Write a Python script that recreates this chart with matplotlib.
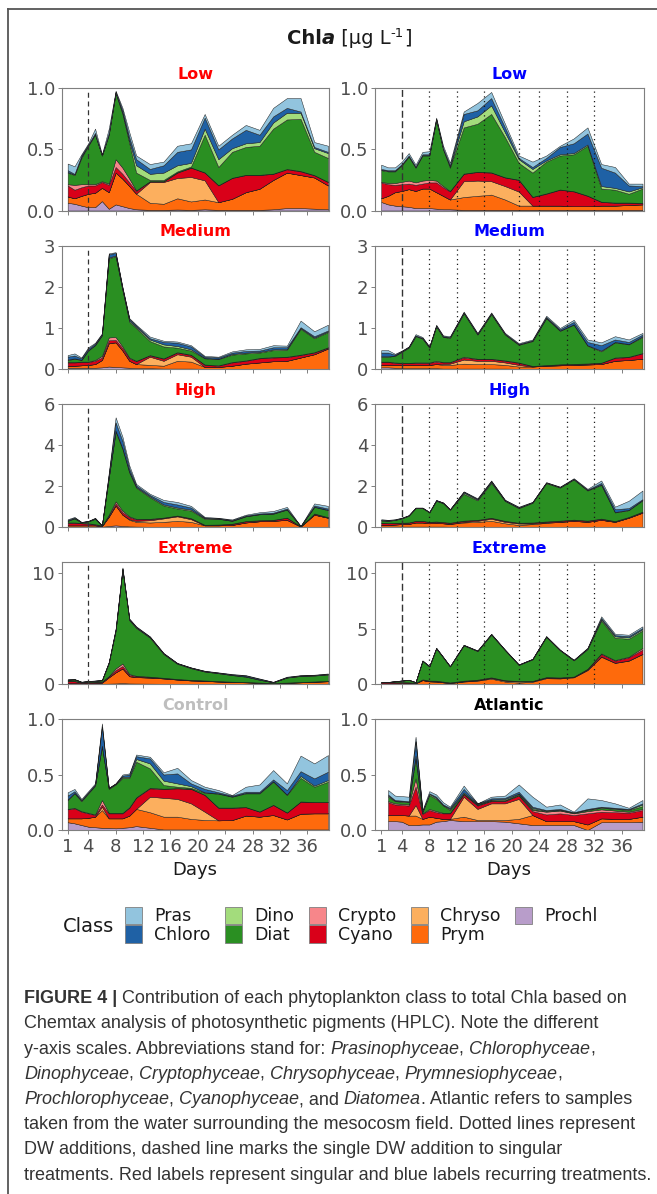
import numpy as np
import matplotlib
matplotlib.use("Agg")
import matplotlib.pyplot as plt
from matplotlib.patches import Patch
from matplotlib.lines import Line2D

nan = np.nan

# sampling days (x axis)
days = [1, 2, 3, 4, 5, 6, 7, 8, 9, 10, 11, 13, 15, 17, 19, 21, 23, 25, 27, 29, 31, 33, 35, 37, 39]

# class order, bottom of the stack first
classes = ["Prochl", "Prym", "Chryso", "Cyano", "Crypto", "Diat", "Dino", "Chloro", "Pras"]
class_colors = ["#B89DCA", "#FE6A0C", "#FCAF5E", "#D90019", "#F7868A",
                "#2A8F22", "#A3DC7C", "#1F61A5", "#92C4DE"]

# Chla per class [ug/L], rows follow `classes`
low_single = [
    [.063, .055, .04, .027, .027, .077, .014, .05, .035, .02, .01, .005, .005, .008, .005, .01, .005, .005, .005, .005, .01, .02, .02, .015, .01],
    [.052, .045, .08, .11, .118, .109, .136, .26, .225, .18, .127, .058, .05, .092, .069, .08, .063, .091, .145, .173, .24, .29, .27, .255, .195],
    [0, 0, 0, 0, 0, 0, 0, 0, 0, 0, 0, .17, .178, .166, .20, .157, 0, 0, 0, 0, 0, 0, 0, 0, 0],
    [.09, .07, .07, .068, .06, .047, .06, .046, .04, .03, .023, .005, .005, .044, .076, .063, .137, .17, .14, .112, .05, .027, .03, .018, .028],
    [.01, .04, .025, .01, .01, .007, .01, .064, .05, .03, .005, .002, .002, .002, .002, .002, .002, .002, .002, .002, .002, .003, .003, .002, .002],
    [.095, .08, .215, .315, .405, .21, .40, .54, .44, .29, .145, .01, .01, .008, .008, .308, .149, .212, .228, .238, .368, .405, .427, .19, .195],
    [.005, .005, .01, .005, .005, 0, .005, .005, .01, .02, .06, .05, .06, .05, .03, .05, .064, .03, .03, .03, .05, .055, .05, .03, .04],
    [.015, .005, .01, .005, .01, .002, .01, .005, .02, .03, .05, .04, .06, .11, .11, .09, .08, .08, .11, .06, .05, .04, .01, .01, .01],
    [.054, .062, .01, .01, .035, .008, .035, .01, .02, .04, .03, .04, .03, .05, .05, .03, .03, .03, .04, .04, .07, .08, .11, .04, .05],
]

low_recurring = [
    [.07, .05, .04, .035, .03, .02, .02, .02, .015, .01, .01, .005, .005, .005, .005, .005, .005, .005, .005, .005, .005, .005, .005, .005, .005],
    [.03, .07, .11, .125, .145, .14, .16, .16, .135, .11, .08, .105, .115, .125, .085, .035, .035, .035, .035, .03, .03, .035, .035, .04, .045],
    [0, 0, 0, 0, 0, 0, 0, 0, 0, 0, 0, .13, .125, .11, .11, .115, 0, 0, 0, 0, 0, 0, 0, 0, 0],
    [.13, .095, .06, .055, .045, .05, .04, .05, .08, .07, .066, .06, .07, .07, .07, .095, .07, .097, .13, .121, .085, .03, .023, .018, .01],
    [.005, .01, .015, .02, .025, .02, .025, .02, .015, .01, .004, .002, .002, .002, .002, .002, .002, .003, .002, .002, .002, .002, .002, .002, .002],
    [.095, .095, .095, .135, .195, .12, .205, .20, .495, .30, .19, .378, .393, .478, .328, .138, .198, .26, .278, .302, .408, .108, .105, .072, .118],
    [.005, .005, .005, .005, .005, .005, .005, .005, .005, .005, .01, .05, .06, .07, .04, .03, .03, .01, .01, .01, .01, .02, .015, .019, .01],
    [.005, .005, .005, .005, .005, .005, .005, .005, .005, .005, .01, .06, .05, .06, .04, .01, .016, .02, .06, .08, .09, .15, .125, .049, .01],
    [.035, .023, .023, .02, .02, .015, .02, .025, .01, .02, .02, .02, .06, .05, .03, .02, .044, .02, .01, .04, .05, .03, .046, .015, .02],
]

medium_single = [
    [.03, .03, .03, .03, .03, .04, .06, .05, .04, .03, .02, .02, .01, .01, .01, .005, .005, .005, .005, .005, .005, .005, .005, .005, .005],
    [.05, .05, .06, .07, .09, .18, .57, .60, .41, .17, .10, .08, .07, .19, .17, .045, .045, .075, .125, .155, .185, .195, .275, .355, .495],
    [0, 0, 0, 0, 0, 0, 0, 0, 0, 0, 0, .20, .12, .16, .12, 0, 0, 0, 0, 0, 0, 0, 0, 0, 0],
    [.08, .08, .08, .07, .08, .06, .07, .06, .06, .06, .07, .03, .05, .04, .04, .05, .03, .08, .07, .10, .09, .09, .06, .04, .02],
    [.01, .01, .01, .01, .02, .04, .07, .07, .04, .02, .01, .01, .01, .01, .01, .01, .01, .01, .01, .01, .01, .01, .01, .01, .01],
    [.05, .08, .04, .27, .36, .50, 1.93, 1.97, 1.37, .87, .80, .34, .29, .11, .10, .15, .15, .18, .17, .13, .17, .17, .63, .34, .37],
    [.01, .01, .005, .01, .01, .01, .02, .02, .02, .03, .03, .04, .05, .04, .03, .01, .01, .02, .02, .02, .02, .02, .02, .02, .02],
    [.07, .07, .035, .04, .03, .02, .08, .06, .04, .04, .03, .03, .06, .08, .07, .03, .03, .03, .04, .03, .05, .04, .02, .03, .02],
    [.04, .05, .02, .03, .02, .02, .02, .02, .02, .02, .02, .04, .03, .03, .03, .02, .02, .03, .04, .04, .05, .04, .16, .12, .14],
]

medium_recurring = [
    [.04, .04, .03, .02, .02, .02, .02, .02, .02, .01, .01, .01, .01, .01, .01, .005, .005, .005, .005, .005, .005, .005, .005, .005, .005],
    [.06, .06, .07, .08, .08, .08, .08, .08, .10, .09, .09, .12, .11, .11, .09, .055, .055, .075, .085, .095, .105, .115, .195, .215, .245],
    [0, 0, 0, 0, 0, 0, 0, 0, 0, .02, .03, .10, .08, .08, .06, .04, 0, 0, 0, 0, 0, 0, 0, 0, 0],
    [.07, .07, .05, .04, .04, .05, .05, .05, .06, .04, .03, .05, .04, .04, .04, .05, .01, .01, .02, .02, .02, .03, .07, .07, .13],
    [.01, .01, .01, .01, .01, .01, .01, .01, .02, .01, .01, .02, .01, .01, .01, .01, .005, .005, .005, .005, .005, .005, .01, .01, .01],
    [.12, .12, .16, .27, .37, .64, .58, .36, .84, .61, .59, 1.06, .59, 1.09, .63, .43, .605, 1.145, .815, .955, .435, .275, .37, .30, .39],
    [.01, .01, .01, .01, .01, .01, .01, .01, .01, .01, .01, .01, .01, .01, .01, .01, .01, .01, .01, .01, .01, .02, .01, .01, .02],
    [.09, .09, .02, .01, .01, .01, .01, .01, .01, .01, .01, .01, .01, .01, .01, .01, .01, .02, .03, .06, .08, .13, .06, .05, .04],
    [.06, .06, .02, .01, .01, .03, .02, .01, .02, .02, .02, .02, .02, .02, .02, .02, .02, .03, .03, .05, .06, .07, .08, .06, .04],
]

high_single = [
    [.02, .02, .02, .02, .02, .01, .05, .08, .05, .03, .02, .01, .01, .01, .01, .005, .005, .005, .005, .005, .005, .005, .005, .005, .005],
    [.06, .06, .06, .06, .06, .03, .45, .97, .55, .32, .23, .21, .24, .29, .24, .075, .075, .095, .215, .275, .295, .345, .015, .595, .445],
    [0, 0, 0, 0, 0, 0, 0, 0, 0, .03, .05, .11, .17, .22, .13, 0, 0, 0, 0, 0, 0, 0, 0, 0, 0],
    [.12, .12, .10, .08, .04, .02, .05, .10, .12, .10, .07, .05, .03, .03, .04, .02, .03, .05, .06, .04, .04, .10, .01, .05, .02],
    [.02, .02, .02, .02, .02, .01, .05, .10, .08, .04, .03, .02, .01, .01, .01, .01, .01, .01, .01, .01, .01, .01, 0, .01, .01],
    [.08, .20, .02, .09, .26, .01, 1.80, 3.40, 3.00, 2.13, 1.52, 1.05, .59, .34, .37, .29, .28, .14, .23, .29, .30, .39, .01, .32, .34],
    [.01, .01, .01, .01, .01, 0, .02, .05, .05, .05, .04, .05, .05, .05, .05, .03, .01, .01, .01, .01, .01, .01, 0, .01, .02],
    [.03, .03, .01, .01, .02, 0, .13, .40, .35, .15, .07, .06, .12, .15, .10, .03, .02, .03, .03, .03, .04, .04, .005, .06, .06],
    [.04, .03, .01, .01, .02, 0, .10, .25, .20, .15, .07, .06, .10, .12, .08, .03, .02, .03, .04, .06, .08, .08, .005, .10, .13],
]

high_recurring = [
    [.02, .02, .02, .02, .02, .02, .02, .02, .02, .02, .01, .01, .01, .01, .01, .01, .01, .01, .01, .01, .01, .01, .01, .01, .01],
    [.08, .08, .10, .12, .13, .20, .20, .16, .18, .16, .14, .21, .24, .29, .17, .09, .13, .19, .24, .29, .24, .34, .24, .44, .69],
    [0, 0, 0, 0, 0, 0, 0, 0, 0, 0, 0, .03, .05, .10, .07, .07, .03, .02, 0, 0, 0, 0, 0, 0, 0],
    [.10, .08, .07, .06, .06, .07, .07, .06, .06, .05, .05, .05, .04, .04, .04, .03, .04, .04, .05, .05, .05, .05, .03, .03, .04],
    [.01, .01, .01, .01, .01, .01, .01, .01, .01, .01, .01, .01, .01, .01, .01, .01, .01, .01, .01, .01, .01, .01, .01, .01, .01],
    [.11, .11, .14, .21, .33, .62, .62, .46, 1.01, .92, .63, 1.31, .95, 1.70, .97, .71, .96, 1.87, 1.61, 1.96, 1.47, 1.64, .42, .33, .55],
    [.01, .01, .01, .01, .01, .01, .01, .01, .01, .01, .01, .06, .04, .05, .02, .02, .02, .02, .02, .02, .02, .03, .02, .02, .02],
    [.02, .02, .01, .01, .01, .01, .01, .01, .02, .02, .01, .04, .03, .04, .02, .02, .01, .01, .01, .01, .02, .07, .14, .08, .04],
    [.03, .02, .02, .02, .01, .01, .01, .01, .01, .01, .01, .02, .03, .03, .02, .03, .02, .02, .02, .03, .04, .12, .12, .36, .42],
]

extreme_single = [
    [.02, .02, .02, .02, .02, .02, .03, .05, .08, .05, .04, .03, .02, .02, .02, .01, .01, .01, .01, .01, .01, .01, .01, .01, .01],
    [.06, .06, .04, .06, .08, .10, .57, 1.00, 1.32, .65, .58, .55, .48, .38, .30, .27, .21, .17, .14, .09, .05, .09, .14, .19, .24],
    [0, 0, 0, 0, 0, 0, 0, 0, 0, 0, 0, 0, 0, 0, 0, 0, 0, 0, 0, 0, 0, 0, 0, 0, 0],
    [.17, .17, .06, .07, .08, .08, .08, .20, .22, .12, .08, .06, .05, .04, .04, .03, .03, .02, .02, .02, .02, .02, .02, .02, .02],
    [.03, .03, .02, .02, .02, .02, .04, .15, .23, .08, .04, .02, .01, .01, .01, .01, .01, .01, .01, .01, .01, .01, .01, .01, .01],
    [.10, .13, .04, .07, .08, .11, 1.18, 3.40, 8.45, 4.85, 4.31, 3.52, 2.14, 1.37, 1.05, .80, .71, .59, .48, .25, .06, .45, .54, .53, .58],
    [.01, .01, .01, .01, .01, .01, .02, .05, .05, .05, .05, .04, .03, .03, .03, .02, .02, .02, .02, .02, .01, .01, .02, .02, .02],
    [.01, .01, .01, .01, .01, .01, .04, .07, .07, .05, .05, .04, .04, .03, .03, .03, .03, .04, .08, .06, .02, .03, .03, .03, .03],
    [.02, .02, .01, .01, .02, .01, .04, .08, .08, .05, .05, .04, .03, .02, .02, .03, .03, .04, .04, .04, .02, .04, .03, .03, .04],
]

extreme_recurring = [
    [.01, .01, .01, .01, .01, .01, .01, .01, .01, .01, .01, .01, .01, .01, .01, .01, .01, .01, .01, .01, .01, .01, .01, .01, .01],
    [.05, .05, .06, .07, .07, .05, .34, .23, .21, .14, .08, .21, .29, .47, .21, .11, .19, .51, .49, .59, 1.24, 2.44, 1.89, 2.09, 2.69],
    [0, 0, 0, 0, 0, 0, 0, 0, 0, 0, 0, .02, .03, .06, .08, .10, .04, .05, .04, .03, .04, .04, .02, .02, .02],
    [.09, .09, .08, .07, .06, .04, .05, .06, .06, .05, .04, .04, .04, .04, .03, .04, .03, .04, .04, .03, .06, .21, .18, .28, .38],
    [.01, .01, .01, .01, .01, .01, .02, .01, .02, .02, .01, .02, .02, .02, .01, .01, .01, .01, .01, .01, .02, .06, .06, .06, .15],
    [.01, .02, .08, .14, .22, .05, 1.66, 1.27, 2.90, 2.18, 1.44, 3.18, 2.58, 3.85, 2.71, 1.45, 1.94, 3.63, 2.45, 1.46, 1.78, 2.97, 2.01, 1.62, 1.58],
    [0, 0, 0, 0, 0, 0, .01, .01, .02, .02, .01, .02, .02, .03, .02, .02, .02, .03, .02, .02, .03, .12, .13, .12, .12],
    [.01, .01, .01, .02, .01, .01, .02, .02, .03, .02, .02, .02, .02, .03, .02, .02, .02, .02, .02, .02, .04, .10, .10, .12, .10],
    [0, 0, 0, .01, .01, .01, .02, .01, .02, .01, .01, .02, .02, .02, .01, .01, .02, .02, .02, .02, .05, .15, .13, .12, .15],
]

control = [
    [.07, .06, .045, .03, .025, .02, .02, .015, .02, .025, .035, .02, .005, .005, .005, .005, .005, .005, .005, .005, .005, .005, .005, .005, .005],
    [.035, .045, .06, .08, .095, .16, .085, .09, .085, .105, .155, .14, .115, .115, .095, .085, .082, .085, .125, .115, .13, .09, .142, .145, .145],
    [0, 0, 0, 0, 0, .03, 0, 0, 0, 0, 0, .14, .17, .16, .14, .075, 0, 0, 0, 0, 0, 0, 0, 0, 0],
    [.081, .09, .06, .04, .015, .02, .045, .045, .045, .07, .10, .075, .08, .095, .13, .15, .113, .11, .075, .045, .09, .061, .108, .10, .10],
    [.004, .005, .005, .005, .005, .04, .005, .005, .005, .005, .005, .005, .002, .002, .002, .002, .002, .002, .002, .002, .002, .002, .002, .002, .002],
    [.08, .13, .09, .175, .26, .48, .215, .255, .315, .265, .32, .175, .033, .013, .008, .019, .125, .098, .123, .163, .208, .157, .213, .138, .183],
    [.005, .005, .005, .005, .005, .01, .005, .005, .01, .01, .025, .045, .04, .03, .015, .004, .003, .002, .005, .005, .005, .005, .017, .01, .015],
    [.035, .015, .005, .005, .005, .17, .005, .005, .01, .02, .025, .045, .055, .09, .025, .03, .01, .008, .01, .01, .016, .04, .043, .065, .075],
    [.03, .02, .01, .01, .01, .03, 0, 0, .01, .01, .015, .015, .02, .05, .03, .02, .02, .005, .045, .065, .084, .06, .14, .135, .15],
]

# no sample on day 1 outside the mesocosms
atlantic = [
    [nan, .08, .08, .075, .045, .045, .05, .05, .075, .08, .09, .08, .08, .08, .075, .06, .045, .045, .045, .045, 0, .07, .07, .07, .075],
    [nan, .055, .055, .06, .085, .085, .05, .07, .035, .02, .01, .04, .01, .01, .015, .04, .09, .035, .035, .035, .05, .035, .03, .03, .045],
    [nan, 0, 0, 0, 0, .095, 0, 0, 0, 0, 0, .18, .10, .15, .15, .18, 0, 0, 0, 0, 0, 0, 0, 0, 0],
    [nan, .115, .095, .09, .09, .165, .045, .06, .05, .05, .05, .02, .03, .02, .02, .03, .035, .06, .07, .055, .10, .06, .06, .056, .06],
    [nan, .01, .01, .01, .01, .075, .005, .01, .01, .005, .005, .005, .005, .005, .005, .005, .01, .025, .025, .015, .02, .021, .015, .009, .01],
    [nan, .04, .02, .02, .02, .18, .01, .125, .11, .065, .025, .005, .005, .005, .005, .01, .01, .005, .005, .005, .01, .014, .015, .015, .025],
    [nan, .01, .005, .005, .005, .025, .005, .01, .01, .005, .01, .01, .005, .005, .01, .005, .01, .005, .005, .003, .005, .005, .005, .005, .015],
    [nan, .01, .005, .005, .005, .13, .005, .005, .01, .005, .01, .03, .005, .01, .01, .015, .01, .005, .005, .002, .005, .005, .005, .005, .01],
    [nan, .04, .04, .04, .04, .04, .01, .02, .02, .02, .01, .03, 0, .015, .02, .065, .09, .03, .04, .005, .095, .06, .04, .01, .03],
]

x_ticks = [1, 4, 8, 12, 16, 20, 24, 28, 32, 36]
single_dw_day = 4
recurring_dw_days = [8, 12, 16, 21, 24, 28, 32]

# (data, title, title colour, y max, y ticks, y tick labels, addition lines)
rows = [
    [(low_single, "Low", "#FF0000", 1.0, [0, .5, 1], ["0.0", "0.5", "1.0"], "single"),
     (low_recurring, "Low", "#0000FF", 1.0, [0, .5, 1], ["0.0", "0.5", "1.0"], "recurring")],
    [(medium_single, "Medium", "#FF0000", 3, [0, 1, 2, 3], ["0", "1", "2", "3"], "single"),
     (medium_recurring, "Medium", "#0000FF", 3, [0, 1, 2, 3], ["0", "1", "2", "3"], "recurring")],
    [(high_single, "High", "#FF0000", 6, [0, 2, 4, 6], ["0", "2", "4", "6"], "single"),
     (high_recurring, "High", "#0000FF", 6, [0, 2, 4, 6], ["0", "2", "4", "6"], "recurring")],
    [(extreme_single, "Extreme", "#FF0000", 11, [0, 5, 10], ["0", "5", "10"], "single"),
     (extreme_recurring, "Extreme", "#0000FF", 11, [0, 5, 10], ["0", "5", "10"], "recurring")],
    [(control, "Control", "#BEBEBE", 1.0, [0, .5, 1], ["0.0", "0.5", "1.0"], None),
     (atlantic, "Atlantic", "#000000", 1.0, [0, .5, 1], ["0.0", "0.5", "1.0"], None)],
]

W, H = 657, 1194
plt.rcParams["font.family"] = ["DejaVu Sans"]
fig = plt.figure(figsize=(W / 100, H / 100), dpi=100)
fig.patch.set_facecolor("white")
renderer = fig.canvas.get_renderer()

col_px = [(61.5, 329.0), (375.0, 643.5)]
row_px = [(88.3, 210.5), (246.0, 369.0), (404.0, 527.0), (562.0, 684.0), (719.0, 830.0)]


def fx(px):
    return px / W


def fy(px):
    return 1 - px / H


def text_width(s, **kw):
    t = fig.text(0, 0, "|" + s + "|", **kw)
    w1 = t.get_window_extent(renderer).width
    t.remove()
    t = fig.text(0, 0, "||", **kw)
    w2 = t.get_window_extent(renderer).width
    t.remove()
    return w1 - w2


def draw_segments(x_px, y_px, parts, center=False):
    # parts: (text, style dict, rise in px)
    widths = [text_width(s, **kw) for s, kw, rise in parts]
    if center:
        x_px = x_px - sum(widths) / 2
    for (s, kw, rise), w in zip(parts, widths):
        fig.text(fx(x_px), fy(y_px - rise), s, ha="left", va="baseline", **kw)
        x_px += w


for r, row in enumerate(rows):
    for c, (data, title, tcol, ymax, yt, ytl, lines) in enumerate(row):
        x0, x1 = col_px[c]
        yt0, yb0 = row_px[r]
        ax = fig.add_axes([fx(x0), fy(yb0), (x1 - x0) / W, (yb0 - yt0) / H])
        vals = np.array(data, dtype=float)
        ax.stackplot(days, vals, colors=class_colors, edgecolor="#1e1e1e", linewidth=0.35)
        ax.set_xlim(0.1, 39.15)
        ax.set_ylim(0, ymax)
        ax.set_xticks(x_ticks)
        if r == len(rows) - 1:
            ax.set_xticklabels([str(v) for v in x_ticks])
        else:
            ax.set_xticklabels([])
        ax.set_yticks(yt)
        ax.set_yticklabels(ytl)
        for sp in ax.spines.values():
            sp.set_color("#7F7F7F")
            sp.set_linewidth(0.8)
        ax.tick_params(length=2.9, width=0.7, color="#7F7F7F", labelsize=13,
                       labelcolor="#4D4D4D", pad=1.8)
        ax.tick_params(axis="x", pad=2.5)
        if lines == "single":
            ax.axvline(single_dw_day, color="#333333", lw=0.9, ls=(0, (4, 3)))
        elif lines == "recurring":
            ax.axvline(single_dw_day, color="#333333", lw=1.0, ls=(0, (5, 2.5)))
            for d in recurring_dw_days:
                ax.axvline(d, color="#1a1a1a", lw=0.9, ls=(0, (1, 2.8)))
        fig.text(fx((x0 + x1) / 2), fy(yt0 - 9.5), title, ha="center", va="baseline",
                 fontsize=11.5, fontweight="bold", color=tcol)
        if r == len(rows) - 1:
            fig.text(fx((x0 + x1) / 2), fy(875), "Days", ha="center", va="baseline",
                     fontsize=13, color="#1a1a1a")

# main title
tkw = dict(fontsize=14, color="#1a1a1a")
draw_segments(349, 43.5, [
    ("Chl", dict(tkw, fontweight="bold"), 0),
    ("a", dict(tkw, fontweight="bold", fontstyle="italic"), 0),
    (" [\u03bcg L", tkw, 0),
    ("-1", dict(fontsize=9.5, color="#1a1a1a"), 6.5),
    ("]", tkw, 0),
], center=True)

# legend
handles = [Patch(facecolor=class_colors[i], edgecolor="#7F7F7F", linewidth=0.6)
           for i in range(len(classes) - 1, -1, -1)]
labels = classes[::-1]
fig.legend(handles, labels, ncol=5, loc="upper left",
           bbox_to_anchor=(fx(125), fy(906.5)), frameon=False, fontsize=12.5,
           handlelength=0.98, handleheight=1.17, labelspacing=0, handletextpad=0.69,
           columnspacing=0.85, borderpad=0, borderaxespad=0, labelcolor="#1a1a1a")
fig.text(fx(88), fy(926.5), "Class", ha="center", va="center", fontsize=14, color="#1a1a1a")

# caption
ckw = dict(fontsize=13, color="#333333", family="Liberation Sans")
ckb = dict(ckw, fontweight="bold")
cki = dict(ckw, fontstyle="italic")
caption = [
    [("FIGURE 4 | ", ckb), ("Contribution of each phytoplankton class to total Chla based on", ckw)],
    [("Chemtax analysis of photosynthetic pigments (HPLC). Note the different", ckw)],
    [("y-axis scales. Abbreviations stand for: ", ckw), ("Prasinophyceae", cki), (", ", ckw),
     ("Chlorophyceae", cki), (",", ckw)],
    [("Dinophyceae", cki), (", ", ckw), ("Cryptophyceae", cki), (", ", ckw), ("Chrysophyceae", cki),
     (", ", ckw), ("Prymnesiophyceae", cki), (",", ckw)],
    [("Prochlorophyceae", cki), (", ", ckw), ("Cyanophyceae", cki), (", and ", ckw), ("Diatomea", cki),
     (". Atlantic refers to samples", ckw)],
    [("taken from the water surrounding the mesocosm field. Dotted lines represent", ckw)],
    [("DW additions, dashed line marks the single DW addition to singular", ckw)],
    [("treatments. Red labels represent singular and blue labels recurring treatments.", ckw)],
]
for i, line in enumerate(caption):
    draw_segments(24, 1003.3 + i * 25.2, [(s, kw, 0) for s, kw in line])

# figure frame (left and top edges)
fig.add_artist(Line2D([fx(7.5), fx(7.5)], [fy(8.5), 0], transform=fig.transFigure,
                      color="#555555", lw=1.3))
fig.add_artist(Line2D([fx(7.5), 1], [fy(8.5), fy(8.5)], transform=fig.transFigure,
                      color="#555555", lw=1.3))

fig.savefig("out.png", dpi=100)
